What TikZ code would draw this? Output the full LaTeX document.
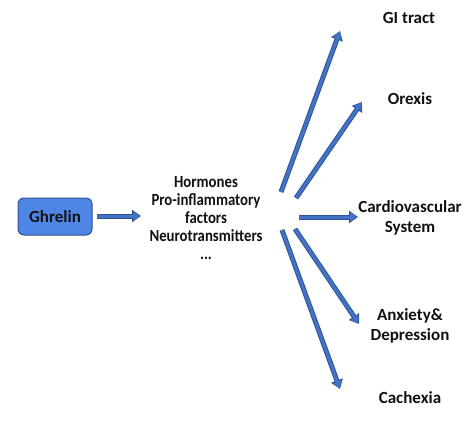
\documentclass[tikz,border=0pt]{standalone}
\usepackage{fontspec}
\setmainfont{Carlito}
\usetikzlibrary{arrows.meta}
\definecolor{arrowout}{HTML}{2F5597}
\definecolor{arrowin}{HTML}{4472C4}
\definecolor{boxfill}{HTML}{4F86E6}
\definecolor{boxline}{HTML}{2F528F}
\definecolor{txt}{HTML}{111111}
\begin{document}
\begin{tikzpicture}[x=1pt,y=-1pt,
  lab/.style={font=\fontsize{17}{17.8}\selectfont\bfseries, align=center, text=txt, inner sep=0pt},
  rlab/.style={font=\fontsize{17}{20}\selectfont\bfseries, align=center, text=txt, inner sep=0pt},
  fatout/.style={draw=arrowout, line width=5pt, -{Triangle[length=9pt,width=12pt]}},
  fatin/.style={draw=arrowin, line width=3pt, shorten >=1.2pt, -{Triangle[length=6.5pt,width=8.5pt]}}]
\useasboundingbox (0,0) rectangle (474,423);
% nodes
\node[draw=boxline, fill=boxfill, rounded corners=6pt, line width=1pt,
      minimum width=74pt, minimum height=37pt, rlab] (gh) at (55,216.5) {Ghrelin};
\begin{scope}[shift={(206,218)}, xscale=0.87]
\node[lab, transform shape] (mid) at (0,0) {Hormones\\Pro-inflammatory\\factors\\Neurotransmitters\\...};
\end{scope}
\node[rlab] (gi) at (409,18) {GI tract};
\node[rlab] (orx) at (410,99) {Orexis};
\node[rlab] (cv) at (410,218) {Cardiovascular\\System};
\node[rlab] (anx) at (410,326) {Anxiety\&\\Depression};
\node[rlab] (cac) at (410,398) {Cachexia};
% arrow coordinates
\coordinate (s0) at (97,216);  \coordinate (e0) at (141,216);
\coordinate (s1) at (281,192); \coordinate (e1) at (340,31);
\coordinate (s2) at (296,198); \coordinate (e2) at (362,102);
\coordinate (s3) at (299,217); \coordinate (e3) at (358,217);
\coordinate (s4) at (295,229); \coordinate (e4) at (359,324);
\coordinate (s5) at (282,230); \coordinate (e5) at (340,389);
\foreach \i in {0,...,5}{
  \draw[fatout] (s\i) -- (e\i);
  \draw[fatin] (s\i) -- (e\i);
}
\end{tikzpicture}
\end{document}
